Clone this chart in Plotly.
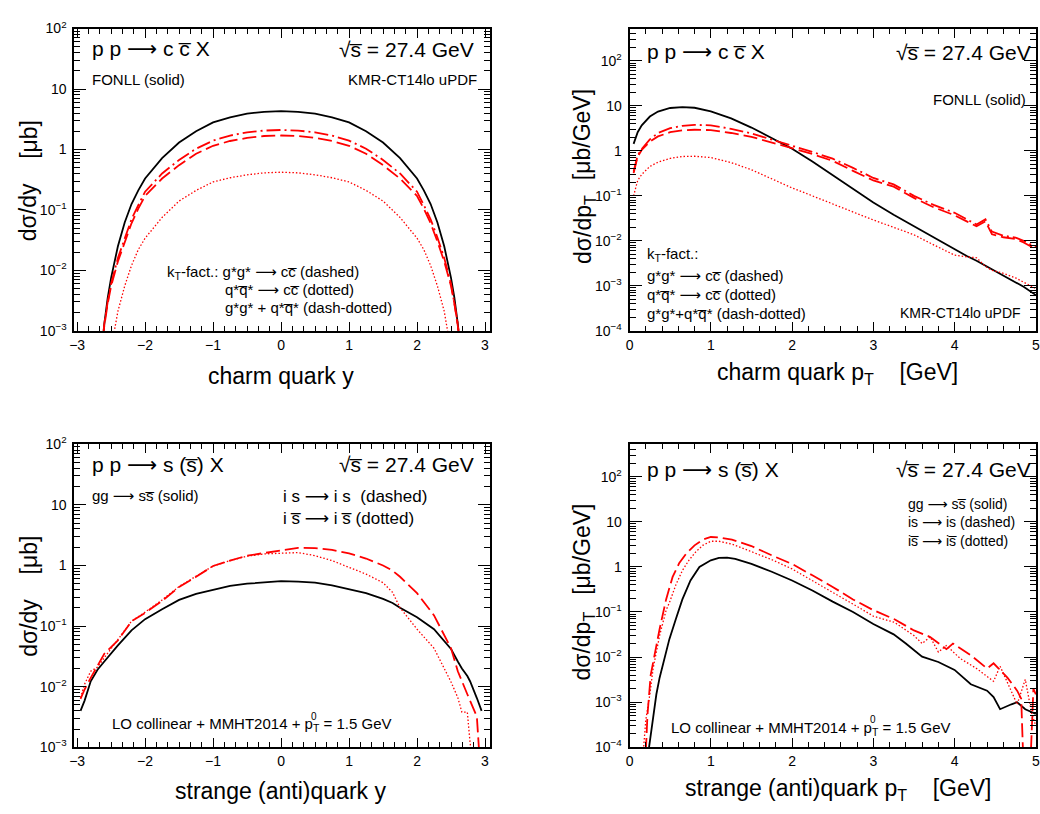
import plotly.graph_objects as go

W, H = 1040, 814
FONT = "Liberation Sans, Arial, Helvetica, sans-serif"
OL = "\u0305"  # combining overline

# ---------------- data: top-left, charm quark rapidity ----------------
charm_y = [-2.65, -2.6, -2.55, -2.5, -2.4, -2.3, -2.2, -2.1, -2.0, -1.75, -1.5, -1.25, -1.0, -0.75,
           -0.5, -0.25, 0.0, 0.25, 0.5, 0.75, 1.0, 1.25, 1.5, 1.75, 2.0, 2.1, 2.2, 2.3, 2.4, 2.5,
           2.55, 2.6, 2.65]
charm_y_fonll = [3e-4, 0.0013, 0.0035, 0.0075, 0.025, 0.062, 0.125, 0.21, 0.33, 0.72, 1.3, 2.0, 2.8,
                 3.4, 3.9, 4.2, 4.3, 4.2, 3.9, 3.4, 2.8, 2.0, 1.3, 0.72, 0.33, 0.21, 0.125, 0.062,
                 0.025, 0.0075, 0.0035, 0.0013, 3e-4]
charm_y_gg = [3.5e-4, 0.0012, 0.0028, 0.0055, 0.014, 0.03, 0.06, 0.105, 0.17, 0.33, 0.55, 0.85, 1.15,
              1.38, 1.55, 1.67, 1.7, 1.67, 1.55, 1.38, 1.15, 0.85, 0.55, 0.33, 0.17, 0.105, 0.06,
              0.03, 0.014, 0.0055, 0.0028, 0.0012, 3.5e-4]
charm_y_qq = [1e-4, 1e-4, 2e-4, 5e-4, 0.0021, 0.0055, 0.012, 0.022, 0.034, 0.075, 0.14, 0.21, 0.29,
              0.34, 0.38, 0.41, 0.42, 0.41, 0.38, 0.34, 0.29, 0.21, 0.14, 0.075, 0.034, 0.022, 0.012,
              0.0055, 0.0021, 5e-4, 2e-4, 1e-4, 1e-4]
charm_y_sum = [3.8e-4, 0.0013, 0.003, 0.006, 0.016, 0.035, 0.07, 0.12, 0.2, 0.4, 0.67, 1.03, 1.4,
               1.7, 1.92, 2.05, 2.1, 2.05, 1.92, 1.7, 1.4, 1.03, 0.67, 0.4, 0.2, 0.12, 0.07, 0.035,
               0.016, 0.006, 0.003, 0.0013, 3.8e-4]

# ---------------- data: top-right, charm quark pT ----------------
charm_pt = [0.05, 0.1, 0.15, 0.25, 0.35, 0.5, 0.65, 0.8, 1.0, 1.25, 1.5, 1.75, 2.0, 2.25, 2.5, 2.75,
            3.0, 3.25, 3.5, 3.75, 4.0, 4.15, 4.27, 4.38, 4.46, 4.6, 4.75, 4.85, 5.0]
charm_pt_fonll = [1.43, 2.6, 3.7, 5.8, 7.5, 9.0, 9.4, 9.1, 7.6, 5.3, 3.3, 1.95, 1.12, 0.58, 0.29,
                  0.145, 0.071, 0.038, 0.021, 0.012, 0.0066, 0.0046, 0.0036, 0.0028, 0.0024, 0.0017,
                  0.0012, 9.5e-4, 6.2e-4]
charm_pt_gg = [0.32, 0.75, 1.05, 1.6, 2.1, 2.6, 2.85, 2.95, 2.9, 2.5, 2.05, 1.55, 1.15, 0.85, 0.6,
               0.36, 0.22, 0.16, 0.09, 0.055, 0.037, 0.027, 0.021, 0.027, 0.014, 0.012, 0.011,
               0.0092, 0.0065]
charm_pt_qq = [0.1, 0.22, 0.3, 0.45, 0.56, 0.68, 0.75, 0.76, 0.71, 0.55, 0.38, 0.24, 0.15, 0.1,
               0.066, 0.045, 0.029, 0.02, 0.0136, 0.008, 0.0048, 0.0044, 0.0042, 0.0027, 0.0022,
               0.0019, 0.0015, 0.0012, 8.7e-4]
charm_pt_sum = [0.35, 0.8, 1.1, 1.8, 2.5, 3.2, 3.6, 3.8, 3.7, 3.1, 2.45, 1.8, 1.3, 0.95, 0.67, 0.42,
                0.25, 0.18, 0.1, 0.062, 0.042, 0.03, 0.023, 0.03, 0.016, 0.013, 0.0118, 0.01, 0.0072]

# ---------------- data: bottom-left, strange (anti)quark rapidity ----------------
strange_y = [-2.95, -2.89, -2.8, -2.7, -2.6, -2.5, -2.4, -2.2, -2.0, -1.75, -1.5, -1.25, -1.0, -0.75,
             -0.5, -0.25, 0.0, 0.25, 0.5, 0.75, 1.0, 1.25, 1.5, 1.64, 1.75, 2.0, 2.25, 2.45, 2.5,
             2.6, 2.66, 2.74, 2.78, 2.88, 2.95]
strange_y_gg = [0.004, 0.0059, 0.0123, 0.019, 0.026, 0.036, 0.048, 0.085, 0.13, 0.19, 0.27, 0.34,
                0.40, 0.46, 0.50, 0.53, 0.55, 0.54, 0.52, 0.47, 0.41, 0.35, 0.28, 0.24, 0.2, 0.14,
                0.089, 0.05, 0.042, 0.026, 0.02, 0.015, 0.0123, 0.0065, 0.004]
strange_y_is = [0.0063, 0.009, 0.014, 0.022, 0.035, 0.045, 0.058, 0.12, 0.165, 0.26, 0.44, 0.65,
                0.98, 1.2, 1.45, 1.6, 1.75, 1.95, 1.93, 1.8, 1.58, 1.3, 1.0, 0.82, 0.65, 0.35, 0.15,
                0.055, 0.043, 0.018, 0.012, 0.0075, 0.0059, 0.0032, 2e-4]
strange_y_isbar = [0.0066, 0.011, 0.018, 0.021, 0.03, 0.042, 0.06, 0.12, 0.17, 0.27, 0.45, 0.66,
                   0.98, 1.2, 1.42, 1.55, 1.6, 1.63, 1.45, 1.2, 0.93, 0.72, 0.52, 0.36, 0.2, 0.089,
                   0.043, 0.016, 0.012, 0.0066, 0.0038, 0.0038, 0.0012, 2e-4, 1e-4]

# ---------------- data: bottom-right, strange (anti)quark pT ----------------
strange_pt_gg_x = [0.2, 0.25, 0.29, 0.33, 0.37, 0.43, 0.49, 0.57, 0.65, 0.75, 0.86, 1.0, 1.1, 1.2,
                   1.3, 1.5, 1.75, 2.0, 2.25, 2.5, 2.75, 3.0, 3.25, 3.4, 3.6, 3.8, 4.0, 4.2, 4.4,
                   4.48, 4.56, 4.7, 4.77, 4.87, 5.0]
strange_pt_gg = [3e-5, 1.5e-4, 5.5e-4, 0.0015, 0.0035, 0.01, 0.025, 0.07, 0.19, 0.5, 1.0, 1.4, 1.58,
                 1.6, 1.5, 1.16, 0.78, 0.5, 0.3, 0.17, 0.1, 0.054, 0.032, 0.02, 0.0102, 0.0078,
                 0.0052, 0.0025, 0.0018, 0.0013, 7e-4, 9e-4, 0.001, 7e-4, 5.5e-4]
strange_pt_is_x = [0.19, 0.22, 0.26, 0.31, 0.37, 0.45, 0.53, 0.61, 0.7, 0.8, 0.9, 1.0, 1.1, 1.26,
                   1.5, 1.75, 2.0, 2.25, 2.5, 2.75, 3.0, 3.26, 3.5, 3.7, 3.9, 3.98, 4.2, 4.4, 4.48,
                   4.65, 4.77, 4.82, 4.85, 4.93, 4.97, 5.0]
strange_pt_is = [3e-5, 5e-4, 0.004, 0.012, 0.042, 0.19, 0.6, 1.2, 2.0, 3.0, 4.0, 4.6, 4.5, 4.0, 2.9,
                 1.8, 1.16, 0.65, 0.36, 0.19, 0.11, 0.069, 0.039, 0.028, 0.015, 0.02, 0.011, 0.0056,
                 0.0073, 0.0035, 0.0018, 0.0012, 3e-5, 3e-5, 0.002, 0.0015]
strange_pt_isbar_x = [0.15, 0.2, 0.25, 0.29, 0.37, 0.45, 0.49, 0.57, 0.65, 0.73, 0.81, 0.9, 1.0,
                      1.1, 1.26, 1.5, 1.75, 2.0, 2.25, 2.5, 2.75, 3.0, 3.26, 3.5, 3.6, 3.7, 3.8, 3.9,
                      4.07, 4.27, 4.48, 4.56, 4.69, 4.77, 4.87, 4.95, 5.0]
strange_pt_isbar = [3e-5, 4e-4, 0.0015, 0.0056, 0.03, 0.11, 0.16, 0.4, 0.83, 1.4, 2.1, 3.0, 3.7,
                    3.7, 3.2, 2.2, 1.45, 0.9, 0.5, 0.28, 0.15, 0.081, 0.059, 0.03, 0.02, 0.028,
                    0.013, 0.018, 0.0093, 0.0056, 0.0029, 0.0063, 0.0018, 9e-4, 0.0032, 5.5e-4,
                    3e-4]

# ---------------- styles ----------------
BLACK = dict(color="black", width=1.8)
RED_DASH = dict(color="#ff0000", width=1.8, dash="14px,5px")
RED_DASHDOT = dict(color="#ff0000", width=1.8, dash="14px,4px,2px,4px")
RED_DOT = dict(color="#ff0000", width=1.3, dash="1.5px,2px")

fig = go.Figure()


def add(x, y, line, ax):
    fig.add_trace(go.Scatter(x=x, y=y, mode="lines", line=line, xaxis="x" + ax, yaxis="y" + ax,
                             showlegend=False, hoverinfo="skip"))


add(charm_y, charm_y_fonll, BLACK, "")
add(charm_y, charm_y_qq, RED_DOT, "")
add(charm_y, charm_y_gg, RED_DASH, "")
add(charm_y, charm_y_sum, RED_DASHDOT, "")

add(charm_pt, charm_pt_fonll, BLACK, "2")
add(charm_pt, charm_pt_qq, RED_DOT, "2")
add(charm_pt, charm_pt_gg, RED_DASH, "2")
add(charm_pt, charm_pt_sum, RED_DASHDOT, "2")

add(strange_y, strange_y_gg, BLACK, "3")
add(strange_y, strange_y_isbar, RED_DOT, "3")
add(strange_y, strange_y_is, RED_DASH, "3")

add(strange_pt_gg_x, strange_pt_gg, BLACK, "4")
add(strange_pt_isbar_x, strange_pt_isbar, RED_DOT, "4")
add(strange_pt_is_x, strange_pt_is, RED_DASH, "4")

# ---------------- axes ----------------
def px_x(v):
    return v / W


def px_y(v):
    return 1 - v / H


LEFT_DOM = [px_x(70), px_x(489)]
RIGHT_DOM = [px_x(630), 1.0]
TOP_DOM = [px_y(328), px_y(19)]
BOT_DOM = [px_y(754), px_y(444)]

TICKFONT = dict(family=FONT, size=14, color="black")


def xaxis(dom, anchor, rng, minor_dtick):
    return dict(domain=dom, anchor=anchor, range=rng, showline=True, linecolor="black",
                linewidth=2, mirror="ticks", ticks="inside", ticklen=9, tickwidth=1,
                tickcolor="black", showgrid=False, zeroline=False, tickfont=TICKFONT,
                tickmode="linear", tick0=0, dtick=1, ticklabeloverflow="allow",
                minor=dict(ticks="inside", ticklen=5, dtick=minor_dtick, tickcolor="black",
                           tickwidth=1, showgrid=False))


def yaxis(dom, anchor, lo, hi):
    vals = [10.0 ** k for k in range(lo, 3)]
    names = {-4: "10<sup>−4</sup>", -3: "10<sup>−3</sup>", -2: "10<sup>−2</sup>",
             -1: "10<sup>−1</sup>", 0: "1", 1: "10", 2: "10<sup>2</sup>"}
    text = [names[k] for k in range(lo, 3)]
    minor_vals = [m * 10.0 ** k for k in range(lo, 3) for m in range(2, 10)]
    return dict(domain=dom, anchor=anchor, type="log", range=[lo, hi], showline=True,
                linecolor="black", linewidth=2, mirror="ticks", ticks="inside", ticklen=12,
                tickwidth=1, tickcolor="black", showgrid=False, zeroline=False,
                tickfont=TICKFONT, tickmode="array", tickvals=vals, ticktext=text,
                ticklabelstandoff=3,
                minor=dict(ticks="inside", ticklen=6, tickmode="array", tickvals=minor_vals,
                           tickcolor="black", tickwidth=1, showgrid=False))


fig.update_layout(
    width=W, height=H, margin=dict(l=0, r=0, t=0, b=0),
    paper_bgcolor="white", plot_bgcolor="white", showlegend=False,
    font=dict(family=FONT, color="black"),
    xaxis=xaxis(LEFT_DOM, "y", [-3.04, 3.07], 1 / 6),
    yaxis=yaxis(TOP_DOM, "x", -3, 2),
    xaxis2=xaxis(RIGHT_DOM, "y2", [0, 5.002], 0.2),
    yaxis2=yaxis(TOP_DOM, "x2", -4, 2.72),
    xaxis3=xaxis(LEFT_DOM, "y3", [-3.04, 3.07], 1 / 6),
    yaxis3=yaxis(BOT_DOM, "x3", -3, 2),
    xaxis4=xaxis(RIGHT_DOM, "y4", [0, 5.002], 0.2),
    yaxis4=yaxis(BOT_DOM, "x4", -4, 2.72),
)

# ---------------- text ----------------
def ann(text, x, y, size, xanchor="left", angle=0):
    return dict(text=text, x=px_x(x), y=px_y(y), xref="paper", yref="paper", xanchor=xanchor,
                yanchor="middle", showarrow=False, textangle=angle,
                font=dict(size=size, color="black", family=FONT))


cbar = "c" + OL
qbar = "q" + OL
sbar = "s" + OL
arrow = "<span style='font-family:DejaVu Sans'>⟶</span>"
sqrts = "√s" + OL

annotations = [
    # top-left
    ann(f"p p {arrow} c {cbar} X", 86, 40, 21),
    ann(f"{sqrts} = 27.4 GeV", 475, 40, 21, "right"),
    ann("FONLL (solid)", 86, 71, 15),
    ann("KMR-CT14lo uPDF", 478, 71, 15, "right"),
    ann(f"k<sub>T</sub>-fact.: g*g* {arrow} c{cbar} (dashed)", 161, 268, 15),
    ann(f"q*{qbar}* {arrow} c{cbar} (dotted)", 220, 286, 15),
    ann(f"g*g* + q*{qbar}* (dash-dotted)", 220, 304, 15),
    # top-right
    ann(f"p p {arrow} c {cbar} X", 646, 43, 21),
    ann(f"{sqrts} = 27.4 GeV", 897, 43, 21),
    ann("FONLL (solid)", 934, 92, 15),
    ann("k<sub>T</sub>-fact.:", 646, 250, 15),
    ann(f"g*g* {arrow} c{cbar} (dashed)", 646, 272, 15),
    ann(f"q*{qbar}* {arrow} c{cbar} (dotted)", 646, 291, 15),
    ann(f"g*g*+q*{qbar}* (dash-dotted)", 646, 310, 15),
    ann("KMR-CT14lo uPDF", 901, 310, 14),
    # bottom-left
    ann(f"p p {arrow} s ({sbar}) X", 86, 465, 21),
    ann(f"{sqrts} = 27.4 GeV", 475, 465, 21, "right"),
    ann(f"gg {arrow} s{sbar} (solid)", 86, 497, 15),
    ann(f"i s {arrow} i s  (dashed)", 278, 497, 17),
    ann(f"i {sbar} {arrow} i {sbar} (dotted)", 278, 519, 17),
    ann("LO collinear + MMHT2014 + p<sub>T</sub> = 1.5 GeV", 106, 731, 15),
    ann("0", 312, 722, 10, "center"),
    # bottom-right
    ann(f"p p {arrow} s ({sbar}) X", 646, 470, 21),
    ann(f"{sqrts} = 27.4 GeV", 897, 470, 21),
    ann(f"gg {arrow} s{sbar} (solid)", 909, 505, 14),
    ann(f"is {arrow} is (dashed)", 909, 524, 14),
    ann(f"i{sbar} {arrow} i{sbar} (dotted)", 909, 543, 14),
    ann("LO collinear + MMHT2014 + p<sub>T</sub> = 1.5 GeV", 670, 735, 15),
    ann("0", 876, 726, 10, "center"),
    # axis titles
    ann("charm quark y", 278, 374, 23, "center"),
    ann("charm quark p<sub>T</sub>    [GeV]", 840, 372, 23, "center"),
    ann("strange (anti)quark y", 278, 799, 23, "center"),
    ann("strange (anti)quark p<sub>T</sub>    [GeV]", 840, 797, 23, "center"),
    ann("dσ/dy", 24, 207, 23, "center", -90),
    ann("[μb]", 24, 132, 23, "center", -90),
    ann("dσ/dp<sub>T</sub>", 584, 224, 23, "center", -90),
    ann("[μb/GeV]", 582, 127, 23, "center", -90),
    ann("dσ/dy", 24, 632, 23, "center", -90),
    ann("[μb]", 24, 557, 23, "center", -90),
    ann("dσ/dp<sub>T</sub>", 584, 650, 23, "center", -90),
    ann("[μb/GeV]", 582, 551, 23, "center", -90),
]
fig.update_layout(annotations=annotations)

fig.write_html("out.html")
